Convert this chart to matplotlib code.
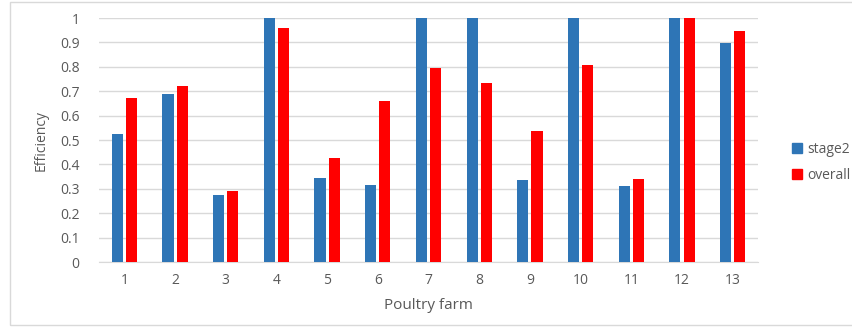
import numpy as np
import matplotlib
matplotlib.use("Agg")
import matplotlib.pyplot as plt
from matplotlib.patches import Rectangle, Patch

plt.rcParams["font.family"] = ["Open Sans", "DejaVu Sans"]

farms = [str(i) for i in range(1, 14)]
stage2 = [0.523, 0.687, 0.275, 1.0, 0.346, 0.317, 1.0, 1.0, 0.335, 1.0, 0.310, 1.0, 0.898]
overall = [0.673, 0.720, 0.290, 0.958, 0.428, 0.659, 0.797, 0.732, 0.538, 0.807, 0.340, 1.0, 0.947]

BLUE = "#2E75B6"
RED = "#FF0000"
GREY = "#595959"

fig = plt.figure(figsize=(8.52, 3.28), dpi=100)
ax = fig.add_axes([0.1162, 0.2012, 0.7735, 0.7438])

x = np.arange(len(farms))
w = 0.22
ax.bar(x - 0.14, stage2, w, color=BLUE, zorder=3)
ax.bar(x + 0.14, overall, w, color=RED, zorder=3)

ax.set_xlim(-0.5, len(farms) - 0.5)
ax.set_ylim(0, 1)
ax.set_yticks(np.arange(0, 1.01, 0.1))
ax.set_yticklabels(["0", "0.1", "0.2", "0.3", "0.4", "0.5", "0.6", "0.7", "0.8", "0.9", "1"])
ax.set_xticks(x)
ax.set_xticklabels(farms)
ax.tick_params(length=0, labelsize=10, colors=GREY, pad=8)
ax.tick_params(axis="y", pad=14)
ax.grid(axis="y", color="#d9d9d9", linewidth=1, zorder=0)
for s in ["top", "right", "left"]:
    ax.spines[s].set_visible(False)
ax.spines["bottom"].set_color("#d9d9d9")

ax.set_ylabel("Efficiency", fontsize=10, color=GREY, labelpad=8)
ax.set_xlabel("Poultry farm", fontsize=11, color=GREY, labelpad=7)

handles = [Patch(color=BLUE, label="stage2"), Patch(color=RED, label="overall")]
fig.legend(handles=handles, loc="center left", bbox_to_anchor=(0.915, 0.505),
           frameon=False, fontsize=10, handlelength=0.7, handleheight=0.7,
           handletextpad=0.4, labelspacing=0.8, labelcolor=GREY)

# light frame around the chart area
fig.patches.append(Rectangle((0.012, 0.008), 1.2, 0.985, transform=fig.transFigure,
                             fill=False, edgecolor="#d9d9d9", linewidth=1))

fig.savefig("out.png", dpi=100)
